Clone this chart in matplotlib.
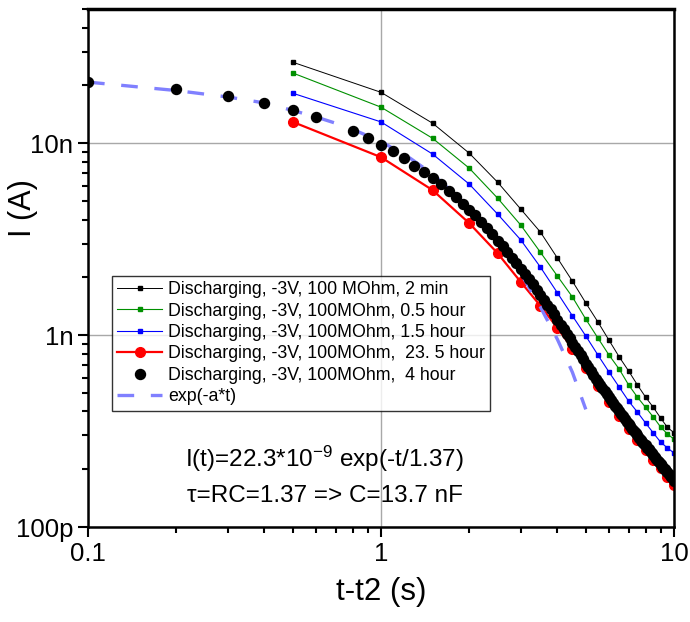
import matplotlib
matplotlib.use('Agg')
import matplotlib.pyplot as plt
from matplotlib.ticker import FuncFormatter, LogLocator, NullFormatter

plt.rcParams['font.family'] = ['Liberation Sans', 'DejaVu Sans']
plt.rcParams['mathtext.fontset'] = 'custom'
plt.rcParams['mathtext.rm'] = 'Liberation Sans'
plt.rcParams['mathtext.it'] = 'Liberation Sans:italic'

# time after switch (s), currents in nA
t_half = [0.5, 1.0, 1.5, 2.0, 2.5, 3.0, 3.5, 4.0, 4.5, 5.0,
          5.5, 6.0, 6.5, 7.0, 7.5, 8.0, 8.5, 9.0, 9.5, 10.0]
i_2min = [26.4, 18.4, 12.7, 8.87, 6.26, 4.53, 3.44, 2.52, 1.91, 1.47,
          1.17, 0.94, 0.77, 0.65, 0.55, 0.475, 0.42, 0.37, 0.33, 0.31]
i_05h = [23.2, 15.4, 10.6, 7.41, 5.17, 3.74, 2.70, 2.03, 1.58, 1.21,
         0.965, 0.787, 0.665, 0.55, 0.475, 0.42, 0.374, 0.332, 0.305, 0.287]
i_15h = [18.2, 12.9, 8.77, 6.12, 4.27, 3.13, 2.26, 1.66, 1.26, 0.989,
         0.787, 0.642, 0.536, 0.453, 0.397, 0.348, 0.309, 0.277, 0.258, 0.243]
i_235h = [12.9, 8.45, 5.69, 3.83, 2.67, 1.89, 1.42, 1.09, 0.85, 0.67,
          0.54, 0.45, 0.38, 0.325, 0.283, 0.251, 0.224, 0.202, 0.183, 0.166]

t_4h = [0.1, 0.2, 0.3, 0.4, 0.5, 0.6, 0.8, 0.9,
        1.0, 1.1, 1.2, 1.3, 1.4, 1.5, 1.6, 1.7, 1.8, 1.9,
        2.0, 2.1, 2.2, 2.3, 2.4, 2.5, 2.6, 2.7, 2.8, 2.9,
        3.0, 3.1, 3.2, 3.3, 3.4, 3.5, 3.6, 3.7, 3.8, 3.9,
        4.0, 4.1, 4.2, 4.3, 4.4, 4.5, 4.6, 4.7, 4.8, 4.9,
        5.0, 5.1, 5.2, 5.3, 5.4, 5.5, 5.6, 5.7, 5.8, 5.9,
        6.0, 6.1, 6.2, 6.3, 6.4, 6.5, 6.6, 6.7, 6.8, 6.9,
        7.0, 7.1, 7.2, 7.3, 7.4, 7.5, 7.6, 7.7, 7.8, 7.9,
        8.0, 8.1, 8.2, 8.3, 8.4, 8.5, 8.6, 8.7, 8.8, 8.9,
        9.0, 9.1, 9.2, 9.3, 9.4, 9.5, 9.6, 9.7, 9.8, 9.9, 10.0]
i_4h = [20.8, 19.1, 17.6, 16.2, 14.9, 13.7, 11.55, 10.6,
        9.76, 9.08, 8.40, 7.63, 7.11, 6.60, 6.11, 5.65, 5.24, 4.83,
        4.51, 4.20, 3.88, 3.61, 3.36, 3.11, 2.92, 2.71, 2.52, 2.37,
        2.22, 2.07, 1.95, 1.84, 1.72, 1.62, 1.53, 1.44, 1.36, 1.28,
        1.20, 1.13, 1.07, 1.01, 0.961, 0.912, 0.865, 0.823, 0.783, 0.746,
        0.711, 0.680, 0.649, 0.620, 0.593, 0.570, 0.548, 0.528, 0.510, 0.492,
        0.475, 0.459, 0.443, 0.429, 0.415, 0.401, 0.389, 0.377, 0.366, 0.354,
        0.344, 0.334, 0.324, 0.315, 0.308, 0.300, 0.292, 0.285, 0.278, 0.272,
        0.266, 0.259, 0.254, 0.248, 0.243, 0.237, 0.232, 0.227, 0.222, 0.218,
        0.213, 0.209, 0.204, 0.200, 0.196, 0.193, 0.189, 0.186, 0.183, 0.180, 0.174]

t_fit = [0.1, 0.15, 0.2, 0.3, 0.4, 0.5, 0.6, 0.7, 0.8, 1.0,
         1.25, 1.5, 2.0, 2.5, 3.0, 3.5, 4.0, 4.5, 5.0]
i_fit = [20.8, 19.6, 18.8, 17.4, 16.2, 14.8, 13.7, 12.7, 11.8, 10.2,
         8.4, 6.9, 4.62, 3.12, 2.10, 1.40, 0.95, 0.64, 0.41]

labels = ['Discharging, -3V, 100 MOhm, 2 min',
          'Discharging, -3V, 100MOhm, 0.5 hour',
          'Discharging, -3V, 100MOhm, 1.5 hour',
          'Discharging, -3V, 100MOhm,  23. 5 hour',
          'Discharging, -3V, 100MOhm,  4 hour',
          'exp(-a*t)']

nA = 1e-9
fig = plt.figure(figsize=(6.9, 6.22), dpi=100)
ax = fig.add_axes([88/690, 1-527/622, (674-88)/690, (527-9)/622])

ax.plot(t_half, [v*nA for v in i_2min], '-s', color='black', lw=0.7, ms=2.5, label=labels[0])
ax.plot(t_half, [v*nA for v in i_05h], '-s', color='#009000', lw=0.8, ms=2.5, label=labels[1])
ax.plot(t_half, [v*nA for v in i_15h], '-s', color='#0000ff', lw=0.8, ms=2.5, label=labels[2])
ax.plot(t_half, [v*nA for v in i_235h], '-o', color='#ff0000', lw=1.6, ms=7, label=labels[3])
ax.plot(t_fit, [v*nA for v in i_fit], color='#8080ff', lw=2.4, dashes=(5, 5), label=labels[5], zorder=2.5)
ax.plot(t_4h, [v*nA for v in i_4h], 'o', color='black', ms=7.2, label=labels[4], zorder=3)

ax.set_xscale('log')
ax.set_yscale('log')
ax.set_xlim(0.1, 10)
ax.set_ylim(1e-10, 5e-8)

ax.grid(True, which='major', color='#a8a8a8', lw=1)
ax.set_axisbelow(True)

ylab = {1e-10: '100p', 1e-9: '1n', 1e-8: '10n'}
ax.yaxis.set_major_formatter(FuncFormatter(lambda v, p: ylab.get(round(v, 12), '')))
ax.xaxis.set_major_formatter(FuncFormatter(lambda v, p: '%g' % v))
ax.yaxis.set_minor_locator(LogLocator(subs=range(2, 10)))
ax.yaxis.set_minor_formatter(NullFormatter())
ax.xaxis.set_minor_formatter(NullFormatter())
ax.tick_params(which='both', direction='out', top=False, right=False, width=1.5, labelsize=18.5)
ax.tick_params(which='major', length=7)
ax.tick_params(which='minor', length=4)
for s in ax.spines.values():
    s.set_linewidth(1.8)
ax.spines['top'].set_linewidth(2.5)

ax.set_xlabel('t-t2 (s)', fontsize=22.5, labelpad=8)
ax.set_ylabel('I (A)', fontsize=22)
ax.yaxis.set_label_coords(-0.085, 0.616)

h, l = ax.get_legend_handles_labels()
order = [0, 1, 2, 3, 5, 4]
leg = ax.legend([h[i] for i in order], [l[i] for i in order], loc='upper left',
                bbox_to_anchor=(0.041, 0.485), fontsize=12.8, frameon=True, fancybox=False,
                edgecolor='black', handlelength=2.5, handletextpad=0.35, labelspacing=0.25,
                borderpad=0.3, borderaxespad=0)
leg.get_frame().set_linewidth(1.0)

fig.text(185/690, 1-467/622, 'I(t)=22.3*10$^{-9}$ exp(-t/1.37)', fontsize=17.5, va='baseline')
fig.text(187/690, 1-502/622, '\u03c4=RC=1.37 => C=13.7 nF', fontsize=17.5, va='baseline')

fig.savefig('out.png', dpi=100)
